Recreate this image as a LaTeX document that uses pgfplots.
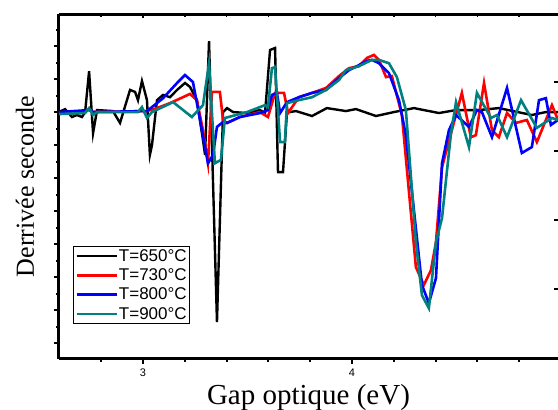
\documentclass[border=0pt]{standalone}
\usepackage{pgfplots}
\pgfplotsset{compat=1.18}
\usepackage{fontspec}
\setmainfont{Liberation Serif}
\setsansfont{Liberation Sans}
\definecolor{tealc}{RGB}{0,128,128}
\definecolor{redc}{RGB}{255,0,0}
\definecolor{bluec}{RGB}{0,0,255}

\begin{document}
\begin{tikzpicture}
\begin{axis}[
  name=main,
  scale only axis,
  width=499pt, height=345pt,
  xmin=2.598, xmax=4.986,
  ymin=-7.48, ymax=2.97,
  axis x line=box,
  axis y line=left,
  axis line style={line width=3pt, -},
  xtick={3,4}, xticklabels={3,4},
  minor xtick={2.8,3.2,3.4,3.6,3.8,4.2,4.4,4.6,4.8},
  ytick={-7,-6,-5,-4,-3,-2,-1,0,1,2},
  minor ytick={-7.5,-6.5,-5.5,-4.5,-3.5,-2.5,-1.5,-0.5,0.5,1.5,2.5},
  yticklabels={},
  xtick pos=bottom, ytick pos=left,
  tick align=outside,
  major tick length=5pt, minor tick length=3pt,
  every tick/.style={line width=2pt, black},
  /pgf/number format/assume math mode=true,
  tick label style={font=\fontsize{11}{11}\selectfont\sffamily},
  xticklabel style={yshift=-1pt},
  xlabel={Gap optique (eV)},
  xlabel style={font=\fontsize{29}{29}\selectfont, at={(axis description cs:0.5,0)}, anchor=base, yshift=-46pt},
  legend style={at={(0.028,0.101)}, anchor=south west, draw=black, line width=0.8pt,
    font=\fontsize{17}{17}\selectfont\sffamily, inner sep=2pt, row sep=4pt,
    nodes={inner sep=1pt}},
  legend cell align=left,
  legend image code/.code={\draw[#1, line width=2.6pt] (0pt,0pt) -- (40pt,0pt);},
  clip=true,
]
\addplot[black, line width=2.4pt] coordinates {
(2.598,0.0) (2.627,0.09) (2.660,-0.15) (2.684,-0.09) (2.708,-0.15) (2.723,0.0)
(2.742,1.24) (2.761,-0.64) (2.780,0.06) (2.856,0.03) (2.890,-0.33) (2.938,0.67)
(2.962,0.61) (2.976,0.36) (2.995,0.94) (3.019,0.36) (3.033,-1.30) (3.043,-1.00)
(3.067,0.36) (3.096,0.52) (3.129,0.45) (3.163,0.67) (3.201,0.88) (3.225,0.76)
(3.258,0.36) (3.287,-0.85) (3.297,-1.30) (3.316,2.15) (3.354,-6.36) (3.383,0.0)
(3.402,0.12) (3.431,0.0) (3.498,-0.03) (3.560,0.06) (3.584,-0.03) (3.608,1.88)
(3.632,1.94) (3.646,-1.82) (3.670,-1.82) (3.689,0.0) (3.703,0.0) (3.732,0.03)
(3.809,-0.12) (3.880,0.12) (3.971,0.03) (4.019,0.09) (4.115,-0.12) (4.201,0.0)
(4.297,0.12) (4.416,-0.03) (4.498,0.06) (4.608,0.06) (4.703,0.12) (4.861,-0.09)
(4.928,0.0) (4.986,0.0)
};
\addlegendentry{T=650°C}
\addplot[redc, line width=2.6pt] coordinates {
(2.598,0.0) (2.723,0.0) (2.742,0.09) (2.761,0.0) (3.019,0.03) (3.067,0.12)
(3.129,0.27) (3.191,0.45) (3.225,0.55) (3.258,0.36) (3.287,-0.55) (3.311,-1.55)
(3.330,0.61) (3.368,0.61) (3.383,-0.24) (3.402,-0.33) (3.464,-0.15) (3.560,0.0)
(3.598,-0.15) (3.632,0.58) (3.675,0.58) (3.694,-0.03) (3.746,0.45) (3.809,0.58)
(3.876,0.73) (3.938,1.09) (3.986,1.33) (4.033,1.39) (4.072,1.64) (4.105,1.73)
(4.129,1.58) (4.163,1.06) (4.191,1.09) (4.239,-0.09) (4.306,-4.70) (4.344,-5.24)
(4.378,-4.79) (4.402,-3.94) (4.431,-1.67) (4.478,-0.55) (4.526,0.58) (4.569,-0.76)
(4.593,-0.70) (4.632,0.88) (4.670,-0.55) (4.703,-0.76) (4.742,-0.03) (4.785,-0.33)
(4.837,-0.24) (4.885,-0.91) (4.928,-0.24) (4.957,0.21) (4.986,-0.24)
};
\addlegendentry{T=730°C}
\addplot[bluec, line width=2.6pt] coordinates {
(2.598,0.0) (2.742,0.06) (2.761,0.0) (3.019,0.03) (3.096,0.42) (3.163,0.88)
(3.201,1.12) (3.239,0.91) (3.273,-0.24) (3.311,-1.55) (3.335,-1.30) (3.354,-0.45)
(3.383,-0.30) (3.402,-0.33) (3.464,-0.15) (3.560,-0.03) (3.598,0.06) (3.617,0.52)
(3.641,0.58) (3.656,-0.03) (3.689,0.30) (3.746,0.45) (3.809,0.58) (3.876,0.67)
(3.938,1.03) (3.986,1.27) (4.033,1.42) (4.072,1.55) (4.096,1.58) (4.129,1.48)
(4.177,1.18) (4.225,0.36) (4.258,-0.70) (4.335,-5.24) (4.368,-5.79) (4.402,-5.03)
(4.431,-1.55) (4.464,-0.55) (4.498,-0.09) (4.560,-0.45) (4.598,0.06) (4.622,0.0)
(4.670,-0.76) (4.742,0.73) (4.813,-1.24) (4.861,-1.06) (4.895,0.36) (4.928,0.42)
(4.952,-0.39) (4.986,-0.24)
};
\addlegendentry{T=800°C}
\addplot[tealc, line width=2.6pt] coordinates {
(2.598,-0.06) (2.723,-0.03) (2.742,0.12) (2.761,-0.09) (2.780,0.0) (2.976,0.0)
(2.995,0.15) (3.019,-0.18) (3.043,0.0) (3.144,0.30) (3.234,-0.15) (3.287,0.21)
(3.316,1.48) (3.344,-1.55) (3.373,-1.45) (3.392,-0.18) (3.498,0.0) (3.584,0.21)
(3.598,0.15) (3.617,1.33) (3.632,1.36) (3.656,-0.91) (3.679,-0.91) (3.689,0.27)
(3.746,0.36) (3.809,0.45) (3.876,0.67) (3.938,0.97) (3.971,1.27) (4.033,1.39)
(4.096,1.58) (4.129,1.58) (4.177,1.48) (4.215,1.06) (4.258,0.06) (4.306,-3.94)
(4.335,-5.55) (4.368,-5.94) (4.402,-3.94) (4.431,-3.21) (4.450,-2.06) (4.474,-0.64)
(4.498,0.30) (4.560,-1.06) (4.598,0.58) (4.665,-0.18) (4.694,-0.09) (4.742,-0.76)
(4.809,0.36) (4.885,-0.48) (4.957,-0.18) (4.986,-0.24)
};
\addlegendentry{T=900°C}
\end{axis}
\begin{axis}[
  scale only axis,
  width=499pt, height=345pt,
  xmin=2.598, xmax=4.986,
  ymin=-7.48, ymax=2.97,
  axis x line=top, axis y line=right,
  axis line style={draw=none},
  xtick={3,4}, minor xtick={2.8,3.2,3.4,3.6,3.8,4.2,4.4,4.6,4.8},
  ytick={0.91,-1.18,-3.27,-5.36},
  xticklabels={}, yticklabels={},
  tick align=inside,
  major tick length=4pt, minor tick length=2.5pt,
  every tick/.style={line width=1.5pt, black},
]
\end{axis}
\node[rotate=90, anchor=base, font=\fontsize{26}{26}\selectfont] at ([xshift=-25pt]main.west) {Derrivée seconde};
\pgfresetboundingbox
\path[use as bounding box] (-59pt,-51pt) rectangle (499pt,359pt);
\end{tikzpicture}
\end{document}
